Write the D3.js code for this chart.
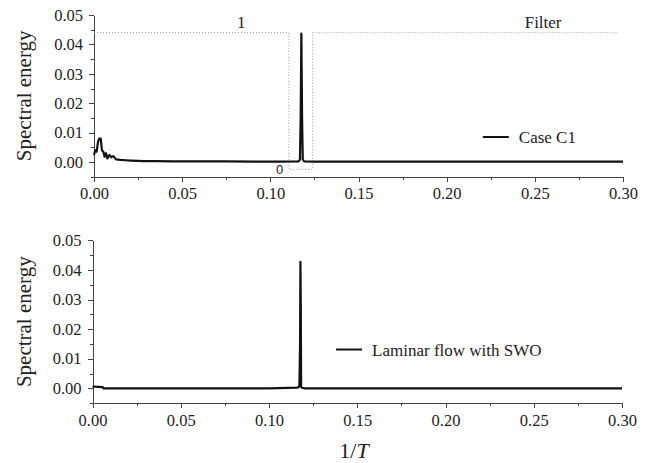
<!DOCTYPE html>
<html>
<head>
<meta charset="utf-8">
<script src="https://cdn.jsdelivr.net/npm/d3@7"></script>
<style>
    body { margin: 0; background: #fff; }
    svg { display: block; }
    .axis path, .axis line { stroke: #444; shape-rendering: crispEdges; }
    .axis text { font-family: "Liberation Serif", "Times New Roman", serif; font-size: 16.5px; fill: #222; }
    .lbl { font-family: "Liberation Serif", "Times New Roman", serif; fill: #222; }
</style>
</head>
<body>
<svg id="chart" width="646" height="463"></svg>
<script>
// spectrum of case C1 (top panel)
var caseX = [0.000, 0.0007, 0.0015, 0.0023, 0.0030, 0.0038, 0.0045, 0.0053, 0.0060, 0.0068, 0.0076, 0.0087,
    0.0098, 0.0110, 0.0125, 0.0150, 0.0180, 0.0210, 0.0250, 0.0280, 0.0350, 0.0450, 0.0600, 0.0750, 0.0900,
    0.1050, 0.1160, 0.1168, 0.1172, 0.1174, 0.1176, 0.1178, 0.1180, 0.1184, 0.1192, 0.1250, 0.1500, 0.2000,
    0.2500, 0.3000];
var caseY = [0.0024, 0.0040, 0.0035, 0.0069, 0.0080, 0.0080, 0.0040, 0.0035, 0.0018, 0.0030, 0.0012, 0.0024,
    0.0016, 0.0020, 0.0009, 0.0007, 0.0006, 0.0005, 0.0004, 0.0003, 0.0003, 0.0002, 0.0002, 0.0002, 0.0001,
    0.0001, 0.0002, 0.0008, 0.0150, 0.0290, 0.0437, 0.0290, 0.0150, 0.0008, 0.0002, 0.0001, 0.0001, 0.0001,
    0.0001, 0.0001];

// spectrum of the laminar flow with SWO (bottom panel)
var laminarX = [0.000, 0.0030, 0.0058, 0.0062, 0.0500, 0.1000, 0.1160, 0.1172, 0.1176, 0.1178, 0.1180,
    0.1182, 0.1186, 0.1200, 0.2000, 0.3000];
var laminarY = [0.0006, 0.0005, 0.0004, 0.0000, 0.0000, 0.0000, 0.0002, 0.0006, 0.0150, 0.0427, 0.0290,
    0.0006, 0.0002, 0.0000, 0.0000, 0.0000];

// filter window drawn over the top panel
var filterX = [0.0000, 0.1105, 0.1105, 0.1240, 0.1240, 0.2975];
var filterY = [0.0440, 0.0440, -0.0025, -0.0025, 0.0440, 0.0440];

var xTicks = [0.00, 0.05, 0.10, 0.15, 0.20, 0.25, 0.30];
var xMinor = [0.025, 0.075, 0.125, 0.175, 0.225, 0.275];
var yTicks = [0.00, 0.01, 0.02, 0.03, 0.04, 0.05];
var yMinor = [-0.005, 0.005, 0.015, 0.025, 0.035, 0.045];

var svg = d3.select("#chart");

class SpectrumPanel {
    constructor(svg, box) {
        this.g = svg.append("g");
        this.x = d3.scaleLinear().domain([0, 0.3]).range([box.left, box.right]);
        this.y = d3.scaleLinear().domain([-0.005, 0.05]).range([box.bottom, box.top]);
        var me = this;
        var yBase = this.y(-0.005);

        // minor ticks first so the major axis sits on top
        this.g.append("g").attr("class", "axis")
            .attr("transform", "translate(0," + yBase + ")")
            .call(d3.axisBottom(this.x).tickValues(xMinor).tickFormat("").tickSize(3).tickSizeOuter(0));
        this.g.append("g").attr("class", "axis")
            .attr("transform", "translate(0," + yBase + ")")
            .call(d3.axisBottom(this.x).tickValues(xTicks).tickFormat(d3.format(".2f"))
                .tickSize(5).tickSizeOuter(0).tickPadding(6));
        this.g.append("g").attr("class", "axis")
            .attr("transform", "translate(" + box.left + ",0)")
            .call(d3.axisLeft(this.y).tickValues(yMinor).tickFormat("").tickSize(3).tickSizeOuter(0));
        this.g.append("g").attr("class", "axis")
            .attr("transform", "translate(" + box.left + ",0)")
            .call(d3.axisLeft(this.y).tickValues(yTicks).tickFormat(d3.format(".2f"))
                .tickSize(5).tickSizeOuter(0).tickPadding(6));

        this.g.append("text")
            .attr("class", "lbl")
            .attr("transform", "translate(31," + (me.y(0.0225)) + ") rotate(-90)")
            .attr("text-anchor", "middle")
            .style("font-size", "21px")
            .text("Spectral energy");
    }

    series(xs, ys, width) {
        var me = this;
        var pts = xs.map(function(d, i) { return [d, ys[i]]; });
        this.g.append("path")
            .datum(pts)
            .attr("fill", "none")
            .attr("stroke", "#111")
            .attr("stroke-width", width)
            .attr("stroke-linejoin", "round")
            .attr("d", d3.line()
                .x(function(d) { return me.x(d[0]); })
                .y(function(d) { return me.y(d[1]); }));
    }

    legend(xv, yv, label) {
        var px = this.x(xv), py = this.y(yv);
        this.g.append("line")
            .attr("x1", px).attr("x2", px + 26)
            .attr("y1", py).attr("y2", py)
            .attr("stroke", "#111").attr("stroke-width", 2);
        this.g.append("text")
            .attr("class", "lbl")
            .attr("x", px + 36).attr("y", py + 6)
            .style("font-size", "17px")
            .text(label);
    }
}

var topPanel = new SpectrumPanel(svg, {left: 94, right: 623, top: 15, bottom: 176.7});
var bottomPanel = new SpectrumPanel(svg, {left: 92.5, right: 622, top: 240.3, bottom: 403.1});

// filter window (dotted)
topPanel.g.append("path")
    .datum(filterX.map(function(d, i) { return [d, filterY[i]]; }))
    .attr("fill", "none")
    .attr("stroke", "#999")
    .attr("stroke-width", 1)
    .attr("stroke-dasharray", "1,2")
    .attr("d", d3.line()
        .x(function(d) { return topPanel.x(d[0]); })
        .y(function(d) { return topPanel.y(d[1]); }));

topPanel.g.append("text")
    .attr("class", "lbl")
    .attr("x", topPanel.x(0.0835)).attr("y", 28)
    .attr("text-anchor", "middle")
    .style("font-size", "17px")
    .text("1");
topPanel.g.append("text")
    .attr("class", "lbl")
    .attr("x", topPanel.x(0.2547)).attr("y", 28)
    .attr("text-anchor", "middle")
    .style("font-size", "17px")
    .text("Filter");
topPanel.g.append("text")
    .attr("x", topPanel.x(0.1053)).attr("y", topPanel.y(-0.0042))
    .attr("text-anchor", "middle")
    .style("font-family", "'Liberation Sans', Arial, sans-serif")
    .style("font-size", "13px")
    .attr("fill", "#222")
    .text("0");

topPanel.series(caseX, caseY, 2.2);
topPanel.legend(0.2205, 0.0085, "Case C1");

bottomPanel.series(laminarX, laminarY, 2.2);
bottomPanel.legend(0.138, 0.0131, "Laminar flow with SWO");

svg.append("text")
    .attr("class", "lbl")
    .attr("x", 354).attr("y", 458)
    .attr("text-anchor", "middle")
    .style("font-size", "22px")
    .html("1/<tspan font-style='italic'>T</tspan>");
</script>
</body>
</html>
